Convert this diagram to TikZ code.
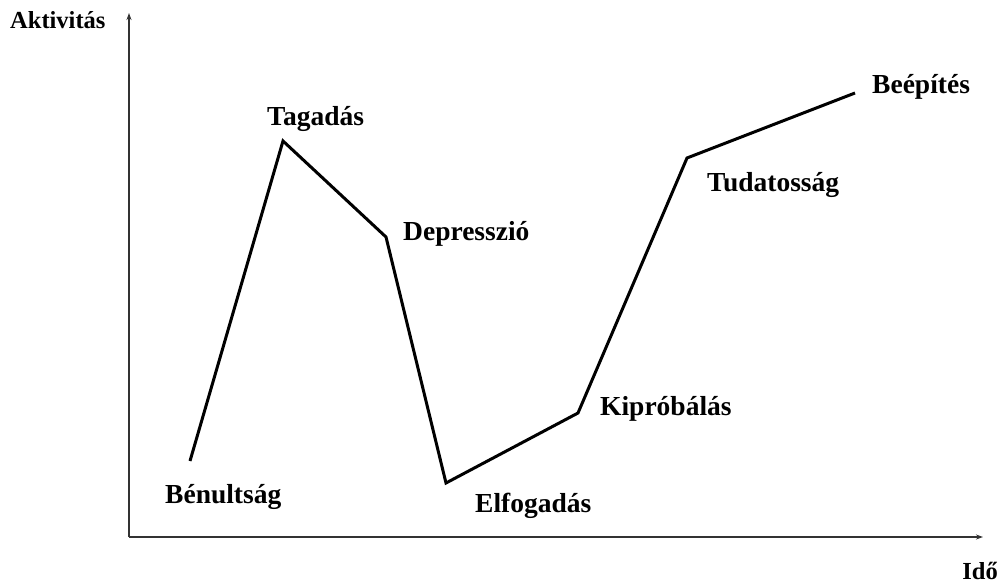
\documentclass[tikz,border=0pt]{standalone}
\usepackage{fontspec}
\setmainfont{Liberation Serif}
\usetikzlibrary{arrows.meta}

\tikzset{
    axis/.style={draw=black!80, line width=1.4pt, -{Stealth[length=7pt,width=5pt]}},
    curve/.style={draw=black, line width=3pt, line join=miter},
    phase/.style={font=\fontsize{27.5}{30}\selectfont\bfseries, inner sep=0pt, anchor=base west},
    axislabel/.style={font=\fontsize{24.5}{27}\selectfont\bfseries, inner sep=0pt, anchor=base west}
}

\begin{document}
\begin{tikzpicture}[x=1pt,y=-1pt]
    \useasboundingbox (0,0) rectangle (1002,584);

    % Axis lines
    \coordinate (O) at (129,537);
    \coordinate (ytop) at (129,13);
    \coordinate (xend) at (983,537);
    \draw[axis] (O) -- (ytop);
    \draw[axis] (O) -- (xend);
    \node[axislabel] (ylab) at (10,28) {Aktivitás};
    \node[axislabel, anchor=base east] (xlab) at (998,579) {Idő};

    % Corner points of the curve
    \coordinate (p1) at (190,461);
    \coordinate (p2) at (283,141);
    \coordinate (p3) at (386,237);
    \coordinate (p4) at (446,483);
    \coordinate (p5) at (578,413);
    \coordinate (p6) at (687,158);
    \coordinate (p7) at (855,93);
    \draw[curve] (p1) -- (p2) -- (p3) -- (p4) -- (p5) -- (p6) -- (p7);

    % Phase labels
    \node[phase] (benultsag) at (165,503) {Bénultság};
    \node[phase] (tagadas) at (267,125) {Tagadás};
    \node[phase] (depresszio) at (403,240) {Depresszió};
    \node[phase] (elfogadas) at (475,512) {Elfogadás};
    \node[phase] (kiprobalas) at (600,415) {Kipróbálás};
    \node[phase] (tudatossag) at (707,191) {Tudatosság};
    \node[phase] (beepites) at (872,93) {Beépítés};
\end{tikzpicture}
\end{document}
